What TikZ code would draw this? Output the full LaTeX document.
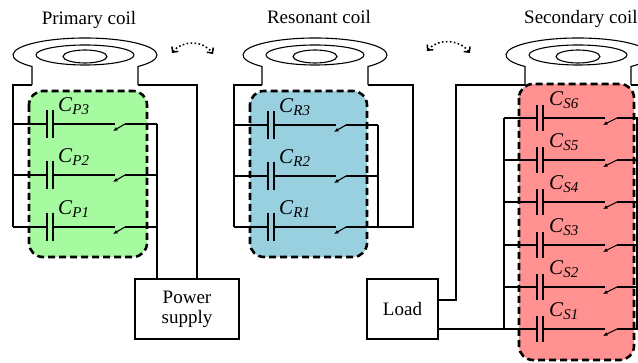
\documentclass[tikz,border=0pt]{standalone}
\usepackage{fontspec}
\setmainfont{Liberation Serif}
\newfontfamily\tnr{Liberation Serif}
\usetikzlibrary{arrows.meta}
\definecolor{pgreen}{RGB}{166,250,160}
\definecolor{rblue}{RGB}{153,208,224}
\definecolor{sred}{RGB}{255,145,145}
\newcommand\clab[1]{\tnr\fontsize{21}{21}\selectfont\textit{C}\raisebox{-3pt}{\fontsize{15}{15}\selectfont\textit{#1}}}
\newcommand\coilshape[1]{%
  \draw[wire] (#1-53,85) -- (#1-53,66.5) arc[start angle=137.4,end angle=402.6,x radius=72,y radius=17] -- (#1+53,85);
  \draw[wire] (#1,55) ellipse[x radius=49,y radius=10];
  \draw[wire] (#1,56.5) ellipse[x radius=22,y radius=6.5];
}
% #1 left bus, #2 left plate, #3 switch start, #4 right bus, #5 row y, #6 half plate, #7 blade width
\newcommand\caprow[7]{%
  \draw[wire] (#1,#5) -- (#2,#5);
  \draw[plate] (#2,#5-#6) -- (#2,#5+#6);
  \draw[plate] (#2+6,#5-#6) -- (#2+6,#5+#6);
  \draw[wire] (#2+6,#5) -- (#3+2,#5);
  \draw[blade] (#3,#5+7) -- (#3+#7,#5);
  \draw[wire] (#3+#7,#5) -- (#4,#5);
}
\begin{document}
\begin{tikzpicture}[x=1pt,y=-1pt,
  wire/.style={line width=1.1pt},
  plate/.style={line width=1.5pt},
  blade/.style={line width=1.1pt,{Latex[length=4.5pt,width=4pt]}-},
  bank/.style={line width=2.6pt,dash pattern=on 7pt off 4pt,rounded corners=14pt},
  ttl/.style={font=\tnr\fontsize{19}{22}\selectfont,inner sep=0},
  lbl/.style={anchor=base west,inner sep=0},
  blockbox/.style={draw,line width=1.1pt,minimum width=#1,minimum height=60pt,inner sep=0,align=center,font=\tnr\fontsize{19}{20}\selectfont},
  swing/.style={line width=1.6pt,dash pattern=on 1.6pt off 2.4pt,{Straight Barb[length=4pt,width=8pt,line width=1.5pt]}-{Straight Barb[length=4pt,width=8pt,line width=1.5pt]}}
]
\useasboundingbox (0,0) rectangle (638,363);

% titles
\node[ttl,anchor=base] (tp) at (89,25) {Primary coil};
\node[ttl,anchor=base] (tr) at (319,24) {Resonant coil};
\node[ttl,anchor=base west] (ts) at (524,24) {Secondary coil};

% capacitor banks
\path[fill=pgreen] (29,91) [rounded corners=14pt] rectangle (147,257);
\path[fill=rblue] (250,91) [rounded corners=14pt] rectangle (367,257);
\path[fill=sred] (519,84) [rounded corners=14pt] rectangle (634,360);

% coils
\coilshape{85}
\coilshape{315}
\coilshape{578}

% boxes
\node[blockbox=104pt] (ps) at (187,309) {Power\\supply};
\node[blockbox=71pt] (load) at (402.5,309) {Load};

% primary circuit
\coordinate (pl) at (13,85);
\coordinate (pr) at (197,85);
\coordinate (pb) at (157,124);
\draw[wire] (32,85) -- (pl) -- (13,227);
\draw[wire] (138,85) -- (pr) -- (pr |- ps.north);
\draw[wire] (pb) -- (pb |- ps.north);
\caprow{13}{47}{113}{157}{124}{14}{12}
\caprow{13}{47}{113}{157}{175}{14}{12}
\caprow{13}{47}{113}{157}{227}{14}{12}
\node[lbl] (cp3) at (58,112) {\clab{P3}};
\node[lbl] (cp2) at (58,163) {\clab{P2}};
\node[lbl] (cp1) at (58,215) {\clab{P1}};

% resonant circuit
\coordinate (rl) at (234,85);
\coordinate (rr) at (413,85);
\draw[wire] (262,85) -- (rl) -- (234,227);
\draw[wire] (368,85) -- (rr) -- (413,227) -- (378,227);
\draw[wire] (378,125) -- (378,227);
\caprow{234}{268}{334}{378}{125}{14}{12}
\caprow{234}{268}{334}{378}{176}{14}{12}
\caprow{234}{268}{334}{378}{227}{14}{12}
\node[lbl] (cr3) at (279,113) {\clab{R3}};
\node[lbl] (cr2) at (279,164) {\clab{R2}};
\node[lbl] (cr1) at (279,215) {\clab{R1}};

% secondary circuit
\coordinate (sl) at (456,85);
\draw[wire] (525,85) -- (sl) -- (456,300) -- (load.east |- 0,300);
\draw[wire] (631,85) -- (640,85);
\draw[wire] (load.east |- 0,329) -- (504,329);
\draw[wire] (504,118) -- (504,329);
\draw[wire] (637,118) -- (637,329);
\caprow{504}{537}{603}{640}{118}{13}{14}
\caprow{504}{537}{603}{640}{160}{13}{14}
\caprow{504}{537}{603}{640}{202}{13}{14}
\caprow{504}{537}{603}{640}{245}{13}{14}
\caprow{504}{537}{603}{640}{287}{13}{14}
\caprow{504}{537}{603}{640}{329}{13}{14}
\node[lbl] (cs6) at (549,106) {\clab{S6}};
\node[lbl] (cs5) at (549,148) {\clab{S5}};
\node[lbl] (cs4) at (549,190) {\clab{S4}};
\node[lbl] (cs3) at (549,233) {\clab{S3}};
\node[lbl] (cs2) at (549,275) {\clab{S2}};
\node[lbl] (cs1) at (549,317) {\clab{S1}};

% dashed borders
\draw[bank] (29,91) rectangle (147,257);
\draw[bank] (250,91) rectangle (367,257);
\draw[bank] (519,84) rectangle (634,360);

% coupling arrows
\coordinate (a1) at (172,53);
\coordinate (a2) at (213,54);
\coordinate (b1) at (427,51);
\coordinate (b2) at (470,53);
\draw[swing] (a1) .. controls (182,40) and (203,40) .. (a2);
\draw[swing] (b1) .. controls (438,38) and (459,39) .. (b2);
\end{tikzpicture}
\end{document}
